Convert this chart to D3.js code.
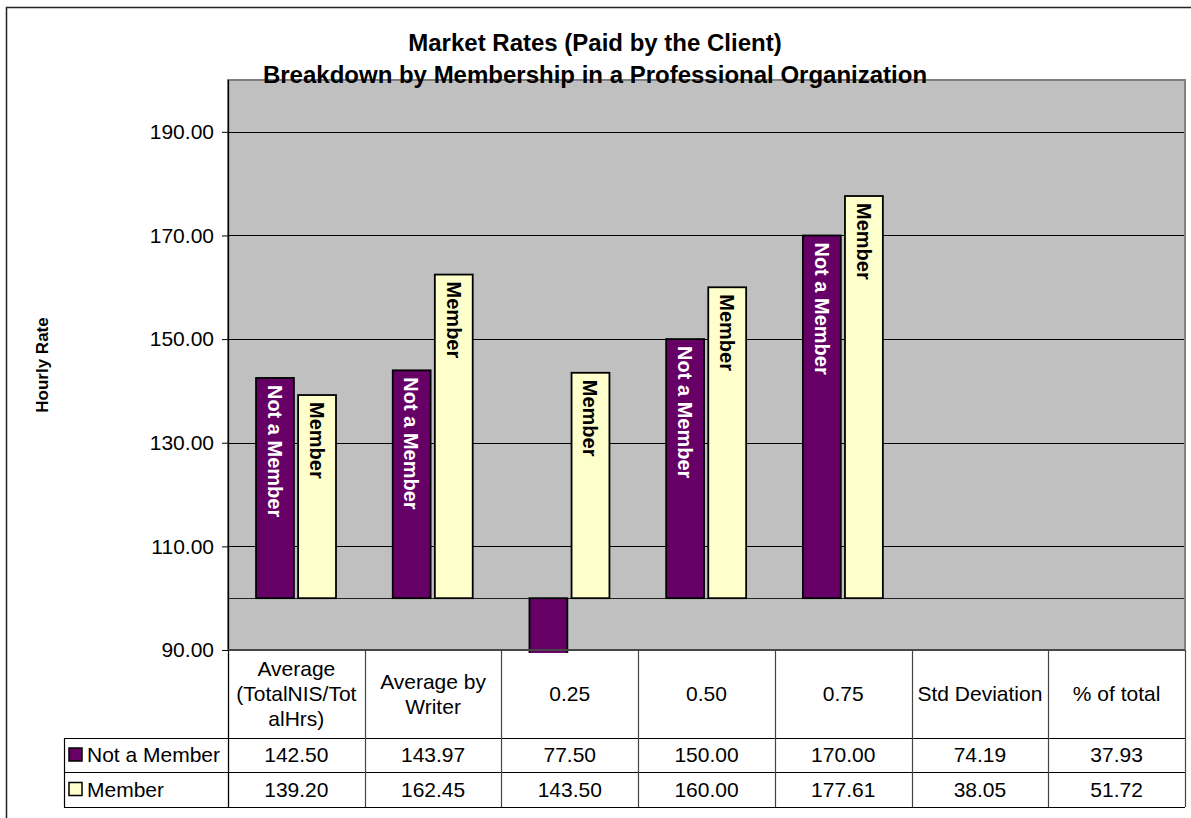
<!DOCTYPE html>
<html><head><meta charset="utf-8">
<script src="https://cdn.jsdelivr.net/npm/d3@7/dist/d3.min.js"></script>
<style>
body{margin:0;background:#fff;}
svg{display:block;font-family:Arial,"Liberation Sans",sans-serif;}
</style>
</head><body>
<svg id="chart" width="1191" height="818"></svg>
<script>
// ---- data ----
const titleLines = ["Market Rates (Paid by the Client)", "Breakdown by Membership in a Professional Organization"];
const yAxisTitle = "Hourly Rate";
const categories = ["Average (TotalNIS/TotalHrs)", "Average by Writer", "0.25", "0.50", "0.75", "Std Deviation", "% of total"];
const categoryLines = [["Average", "(TotalNIS/Tot", "alHrs)"], ["Average by", "Writer"], ["0.25"], ["0.50"], ["0.75"], ["Std Deviation"], ["% of total"]];
const seriesNames = ["Not a Member", "Member"];
const notMember = [142.50, 143.97, 77.50, 150.00, 170.00, 74.19, 37.93];
const member = [139.20, 162.45, 143.50, 160.00, 177.61, 38.05, 51.72];
const plottedCategories = ["Average (TotalNIS/TotalHrs)", "Average by Writer", "0.25", "0.50", "0.75"];
const yTicks = [90, 110, 130, 150, 170, 190];
const yDomain = [90, 200];
const baselineValue = 100;
const seriesColors = ["#660066", "#FFFFCC"];
const labelColors = ["#FFFFFF", "#000000"];

// ---- layout ----
const svg = d3.select("#chart");
const plot = {left: 228, right: 1185, top: 80, bottom: 650};
const table = {legendLeft: 64, headerBottom: 738, row1Bottom: 772, row2Bottom: 807};

const x = d3.scaleBand().domain(categories).range([plot.left, plot.right]);
const xs = d3.scaleBand().domain(seriesNames)
  .range([0.205 * x.bandwidth(), 0.79 * x.bandwidth()]).paddingInner(0.1);
const y = d3.scaleLinear().domain(yDomain).range([plot.bottom, plot.top]);
const color = d3.scaleOrdinal().domain(seriesNames).range(seriesColors);
const labelColor = d3.scaleOrdinal().domain(seriesNames).range(labelColors);

const seriesValues = [notMember, member];
const barData = [];
seriesNames.forEach((s, si) => {
  categories.forEach((c, ci) => {
    if (plottedCategories.includes(c)) barData.push({series: s, cat: c, value: seriesValues[si][ci]});
  });
});

// outer frame
svg.append("rect").attr("x", 6.5).attr("y", 7.5).attr("width", 1300).attr("height", 1000)
  .attr("fill", "none").attr("stroke", "#222").attr("stroke-width", 1.5);

// plot background
svg.append("rect").attr("x", plot.left).attr("y", plot.top)
  .attr("width", plot.right - plot.left).attr("height", plot.bottom - plot.top)
  .attr("fill", "#C0C0C0");

// gridlines
svg.append("g").selectAll("line").data(yTicks.filter(d => d > yDomain[0])).join("line")
  .attr("x1", plot.left).attr("x2", plot.right)
  .attr("y1", d => Math.round(y(d)) + 0.5).attr("y2", d => Math.round(y(d)) + 0.5)
  .attr("stroke", "#000").attr("stroke-width", 1);

// baseline (horizontal axis crosses at 100)
svg.append("line").attr("x1", plot.left).attr("x2", plot.right)
  .attr("y1", Math.round(y(baselineValue)) + 0.5).attr("y2", Math.round(y(baselineValue)) + 0.5)
  .attr("stroke", "#222").attr("stroke-width", 1.2);

// clip for bars
svg.append("clipPath").attr("id", "plotclip").append("rect")
  .attr("x", plot.left).attr("y", plot.top).attr("width", plot.right - plot.left)
  .attr("height", plot.bottom - plot.top + 3);

const bars = svg.append("g").attr("clip-path", "url(#plotclip)");
bars.selectAll("rect").data(barData).join("rect")
  .attr("x", d => x(d.cat) + xs(d.series))
  .attr("width", xs.bandwidth())
  .attr("y", d => y(Math.max(d.value, baselineValue)))
  .attr("height", d => Math.abs(y(d.value) - y(baselineValue)))
  .attr("fill", d => color(d.series))
  .attr("stroke", "#000").attr("stroke-width", 1.8);

// bar labels (inside end, rotated)
svg.append("g").selectAll("text").data(barData.filter(d => d.value >= baselineValue)).join("text")
  .attr("transform", d => `translate(${x(d.cat) + xs(d.series) + xs.bandwidth() / 2},${y(d.value) + 7}) rotate(90)`)
  .attr("dy", "0.36em")
  .attr("text-anchor", "start")
  .attr("font-size", 20).attr("font-weight", "bold")
  .attr("fill", d => labelColor(d.series))
  .text(d => d.series);

// plot border
svg.append("rect").attr("x", plot.left).attr("y", plot.top)
  .attr("width", plot.right - plot.left).attr("height", plot.bottom - plot.top)
  .attr("fill", "none").attr("stroke", "#808080").attr("stroke-width", 2);

// y axis
const yAxis = svg.append("g").attr("transform", `translate(${plot.left},0)`)
  .call(d3.axisLeft(y).tickValues(yTicks).tickSize(6).tickPadding(8).tickFormat(d3.format(".2f")));
yAxis.select(".domain").remove();
yAxis.selectAll("text").attr("font-size", 21).attr("font-family", "Arial, 'Liberation Sans', sans-serif").attr("fill", "#000");
yAxis.selectAll("line").attr("stroke", "#000");
svg.append("line").attr("x1", plot.left + 0.5).attr("x2", plot.left + 0.5)
  .attr("y1", plot.top).attr("y2", table.row2Bottom).attr("stroke", "#000").attr("stroke-width", 1.3);

// y axis title
svg.append("text").attr("transform", `translate(48,365) rotate(-90)`)
  .attr("text-anchor", "middle").attr("font-size", 17).attr("font-weight", "bold")
  .text(yAxisTitle);

// title
svg.append("g").selectAll("text").data(titleLines).join("text")
  .attr("x", 595).attr("y", (d, i) => 51 + i * 32)
  .attr("text-anchor", "middle").attr("font-size", 24).attr("font-weight", "bold")
  .text(d => d);

// ---- data table ----
const tg = svg.append("g");
tg.append("line").attr("x1", plot.left).attr("x2", plot.right).attr("y1", plot.bottom).attr("y2", plot.bottom)
  .attr("stroke", "#333").attr("stroke-width", 1.5);
[table.headerBottom, table.row1Bottom, table.row2Bottom].forEach(yy => {
  tg.append("line").attr("x1", table.legendLeft).attr("x2", plot.right).attr("y1", yy + 0.5).attr("y2", yy + 0.5)
    .attr("stroke", "#000").attr("stroke-width", 1.2);
});
tg.append("line").attr("x1", table.legendLeft + 0.5).attr("x2", table.legendLeft + 0.5)
  .attr("y1", table.headerBottom).attr("y2", table.row2Bottom).attr("stroke", "#000").attr("stroke-width", 1.2);
tg.selectAll("line.sep").data(categories.slice(1).map(c => x(c)).concat([plot.right])).join("line")
  .attr("class", "sep")
  .attr("x1", d => Math.round(d) + 0.5).attr("x2", d => Math.round(d) + 0.5)
  .attr("y1", plot.bottom).attr("y2", table.row2Bottom)
  .attr("stroke", "#444").attr("stroke-width", 1.2);
const headerCenter = (plot.bottom + table.headerBottom) / 2;
categories.forEach((c, ci) => {
  const lines = categoryLines[ci];
  const t = tg.append("text").attr("text-anchor", "middle").attr("font-size", 21);
  lines.forEach((ln, li) => {
    t.append("tspan").attr("x", x(c) + x.bandwidth() / 2)
      .attr("y", headerCenter + (li - (lines.length - 1) / 2) * 25)
      .attr("dy", "0.35em").text(ln);
  });
});
const rowCenters = [(table.headerBottom + table.row1Bottom) / 2, (table.row1Bottom + table.row2Bottom) / 2];
seriesNames.forEach((s, si) => {
  const cy = rowCenters[si];
  tg.append("rect").attr("x", 69).attr("y", cy - 7).attr("width", 13).attr("height", 13)
    .attr("fill", color(s)).attr("stroke", "#000").attr("stroke-width", 1.5);
  tg.append("text").attr("x", 87).attr("y", cy).attr("dy", "0.35em").attr("font-size", 21).text(s);
  categories.forEach((c, ci) => {
    tg.append("text").attr("x", x(c) + x.bandwidth() / 2).attr("y", cy).attr("dy", "0.35em")
      .attr("text-anchor", "middle").attr("font-size", 21)
      .text(d3.format(".2f")(seriesValues[si][ci]));
  });
});
</script>
</body></html>
